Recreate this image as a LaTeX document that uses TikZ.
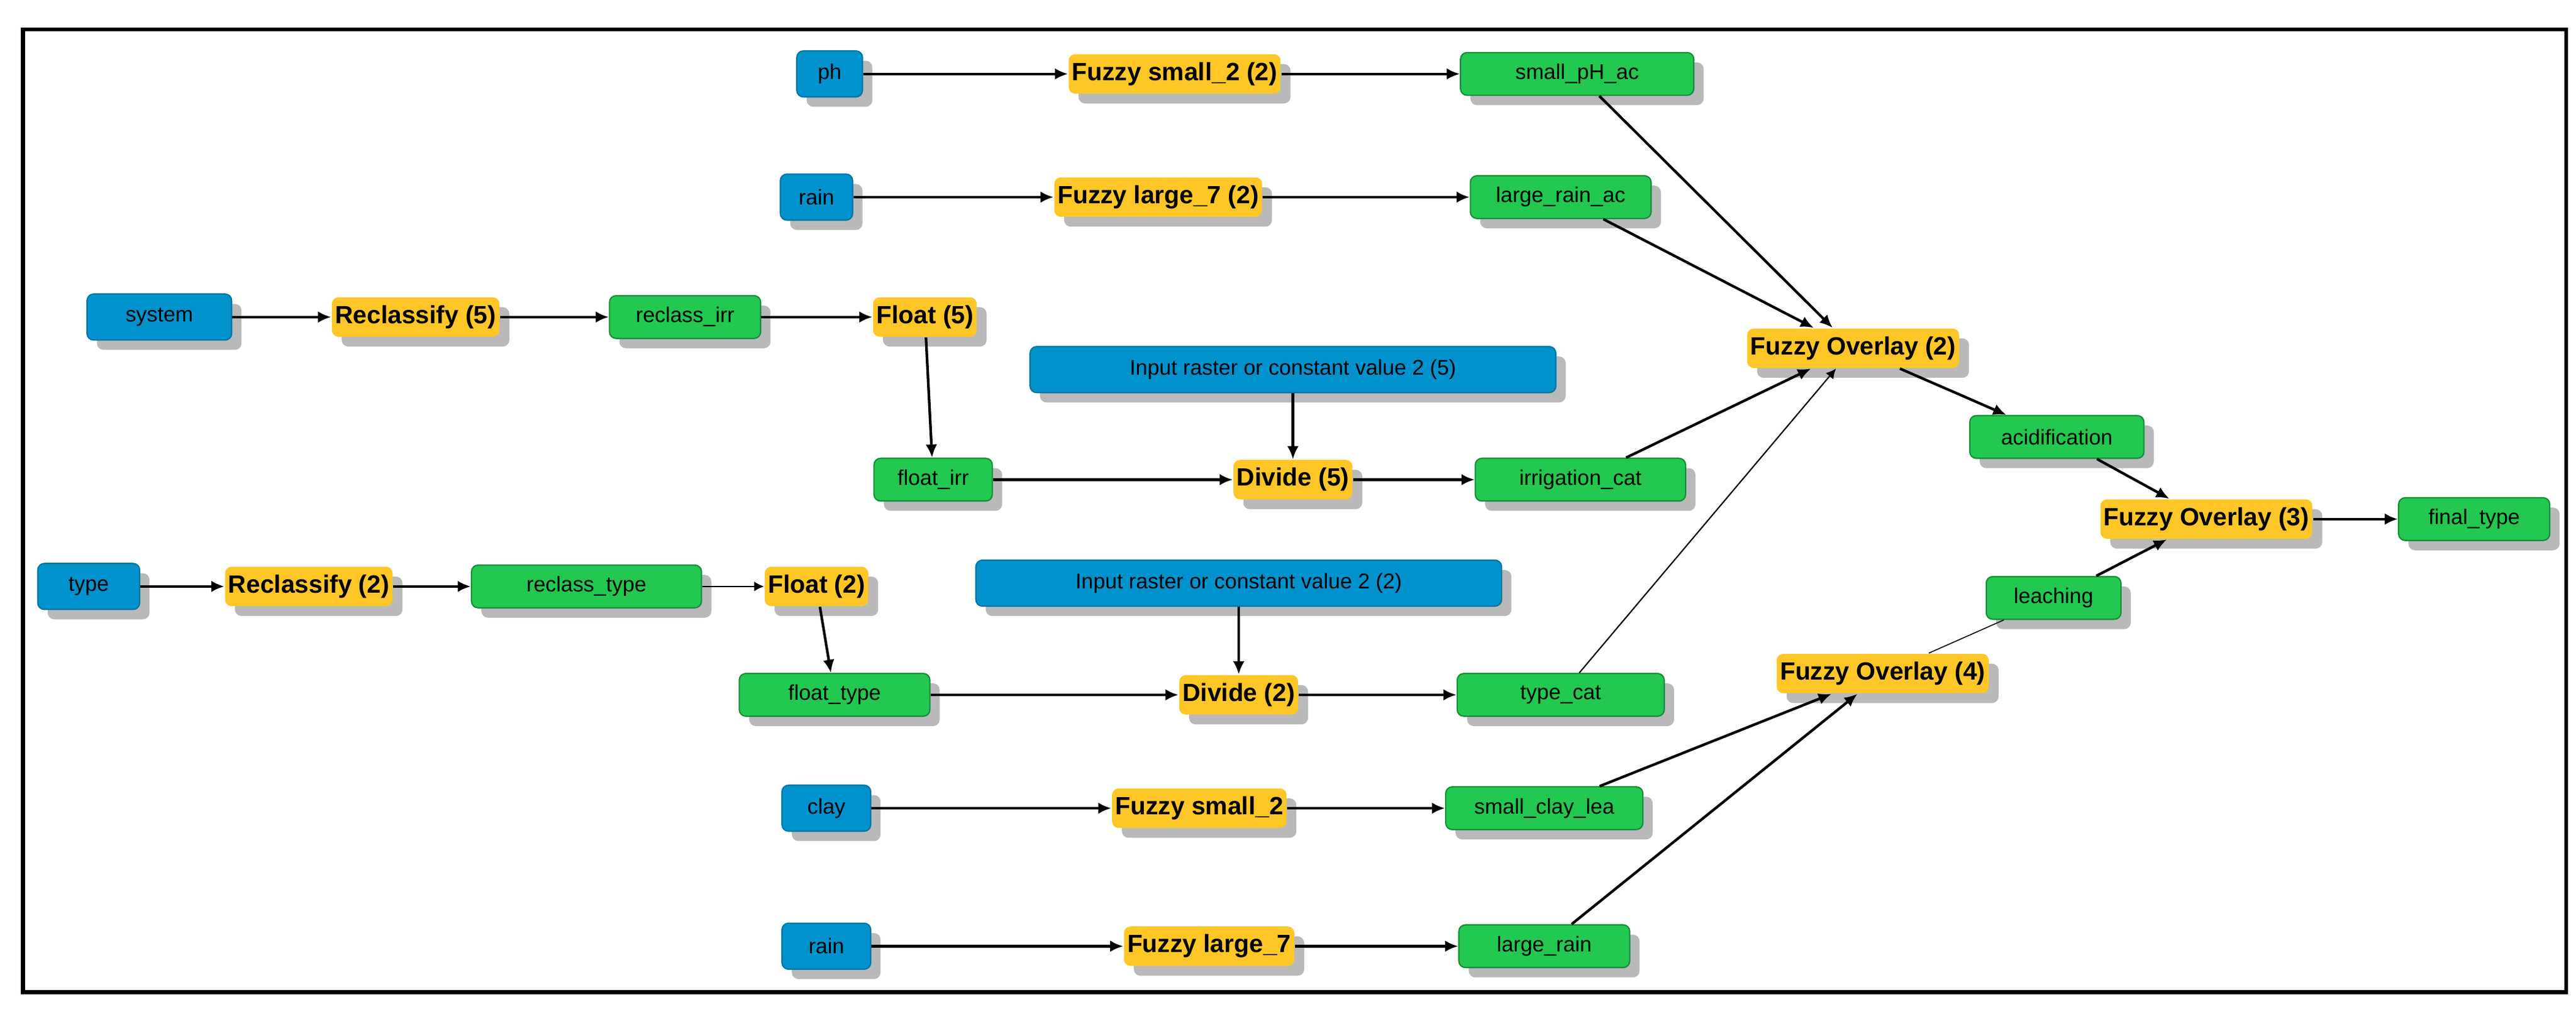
\documentclass[tikz,border=0pt]{standalone}
\usepackage{fontspec}
\setmainfont{Liberation Sans}
\usetikzlibrary{shadows,arrows.meta}
\definecolor{inblue}{RGB}{0,146,204}
\definecolor{toolyellow}{RGB}{255,198,40}
\definecolor{outgreen}{RGB}{34,200,80}

\begin{document}
\begin{tikzpicture}[
        x=0.5pt, y=-0.5pt,
        box/.style={rectangle, rounded corners=2pt, inner sep=1pt,
            drop shadow={shadow xshift=3pt, shadow yshift=-3pt, fill=gray!55, opacity=1}},
        data/.style={box, fill=inblue, draw=inblue!80!black, minimum height=14pt, font=\fontsize{6.5}{7}\selectfont},
        tool/.style={box, fill=toolyellow, minimum height=12pt, font=\bfseries\fontsize{7.6}{9}\selectfont},
        result/.style={box, fill=outgreen, draw=outgreen!70!black, minimum height=13pt, font=\fontsize{6.5}{7}\selectfont},
        link/.style={-{Latex[length=4pt,width=3.5pt]}, line width=0.8pt},
        thin link/.style={-{Latex[length=3pt,width=3pt]}, line width=0.4pt}
    ]
    \useasboundingbox (0,0) rectangle (1568,614);
    \draw[line width=1.2pt] (14,18) rectangle (1562,604);

    % acidification branch
    \node[data, minimum width=20pt] (ph) at (505,45) {ph};
    \node[tool] (fs2a) at (715,45) {Fuzzy small\_2 (2)};
    \node[result, minimum width=71pt] (sph) at (960,45) {small\_pH\_ac};
    \node[data, minimum width=22pt] (rain1) at (497,120) {rain};
    \node[tool] (fl7a) at (705,120) {Fuzzy large\_7 (2)};
    \node[result, minimum width=55pt] (lra) at (950,120) {large\_rain\_ac};

    \node[data, minimum width=44pt] (system) at (97,193) {system};
    \node[tool] (rc5) at (253,193) {Reclassify (5)};
    \node[result, minimum width=46pt] (rci) at (417,193) {reclass\_irr};
    \node[tool] (fl5) at (563,193) {Float (5)};
    \node[data, minimum width=160pt] (in5) at (787,225) {Input raster or constant value 2 (5)};
    \node[result, minimum width=36pt] (fi) at (568,292) {float\_irr};
    \node[tool] (dv5) at (787,292) {Divide (5)};
    \node[result, minimum width=64pt] (ic) at (962,292) {irrigation\_cat};

    \node[tool] (fo2) at (1128,212) {Fuzzy Overlay (2)};
    \node[result, minimum width=53pt] (acid) at (1252,266) {acidification};
    \node[tool] (fo3) at (1343,316) {Fuzzy Overlay (3)};
    \node[result, minimum width=46pt] (final) at (1506,316) {final\_type};

    % type branch
    \node[data, minimum width=31pt] (type) at (54,357) {type};
    \node[tool] (rc2) at (188,357) {Reclassify (2)};
    \node[result, minimum width=70pt] (rct) at (357,357) {reclass\_type};
    \node[tool] (fl2) at (497,357) {Float (2)};
    \node[data, minimum width=160pt] (in2) at (754,355) {Input raster or constant value 2 (2)};
    \node[result, minimum width=58pt] (ft) at (508,423) {float\_type};
    \node[tool] (dv2) at (754,423) {Divide (2)};
    \node[result, minimum width=63pt] (tc) at (950,423) {type\_cat};

    % leaching branch
    \node[result, minimum width=41pt] (leach) at (1250,364) {leaching};
    \node[tool] (fo4) at (1146,410) {Fuzzy Overlay (4)};
    \node[data, minimum width=27pt] (clay) at (503,492) {clay};
    \node[tool] (fs2b) at (730,492) {Fuzzy small\_2};
    \node[result, minimum width=60pt] (scl) at (940,492) {small\_clay\_lea};
    \node[data, minimum width=27pt] (rain2) at (503,576) {rain};
    \node[tool] (fl7b) at (736,576) {Fuzzy large\_7};
    \node[result, minimum width=52pt] (lr) at (940,576) {large\_rain};

    \draw[link] (ph) -- (fs2a);
    \draw[link] (fs2a) -- (sph);
    \draw[link] (rain1) -- (fl7a);
    \draw[link] (fl7a) -- (lra);
    \draw[link] (system) -- (rc5);
    \draw[link] (rc5) -- (rci);
    \draw[link] (rci) -- (fl5);
    \draw[link] (fl5) -- (fi);
    \draw[link] (in5) -- (dv5);
    \draw[link] (fi) -- (dv5);
    \draw[link] (dv5) -- (ic);
    \draw[link] (sph) -- (fo2);
    \draw[link] (lra) -- (fo2);
    \draw[link] (ic) -- (fo2);
    \draw[thin link] (tc) -- (fo2);
    \draw[link] (fo2) -- (acid);
    \draw[link] (acid) -- (fo3);
    \draw[link] (fo3) -- (final);
    \draw[link] (type) -- (rc2);
    \draw[link] (rc2) -- (rct);
    \draw[thin link] (rct) -- (fl2);
    \draw[link] (fl2) -- (ft);
    \draw[link] (in2) -- (dv2);
    \draw[link] (ft) -- (dv2);
    \draw[link] (dv2) -- (tc);
    \draw[link] (leach) -- (fo3);
    \draw[line width=0.3pt] (fo4) -- (leach);
    \draw[link] (clay) -- (fs2b);
    \draw[link] (fs2b) -- (scl);
    \draw[link] (scl) -- (fo4);
    \draw[link] (rain2) -- (fl7b);
    \draw[link] (fl7b) -- (lr);
    \draw[link] (lr) -- (fo4);
\end{tikzpicture}
\end{document}
